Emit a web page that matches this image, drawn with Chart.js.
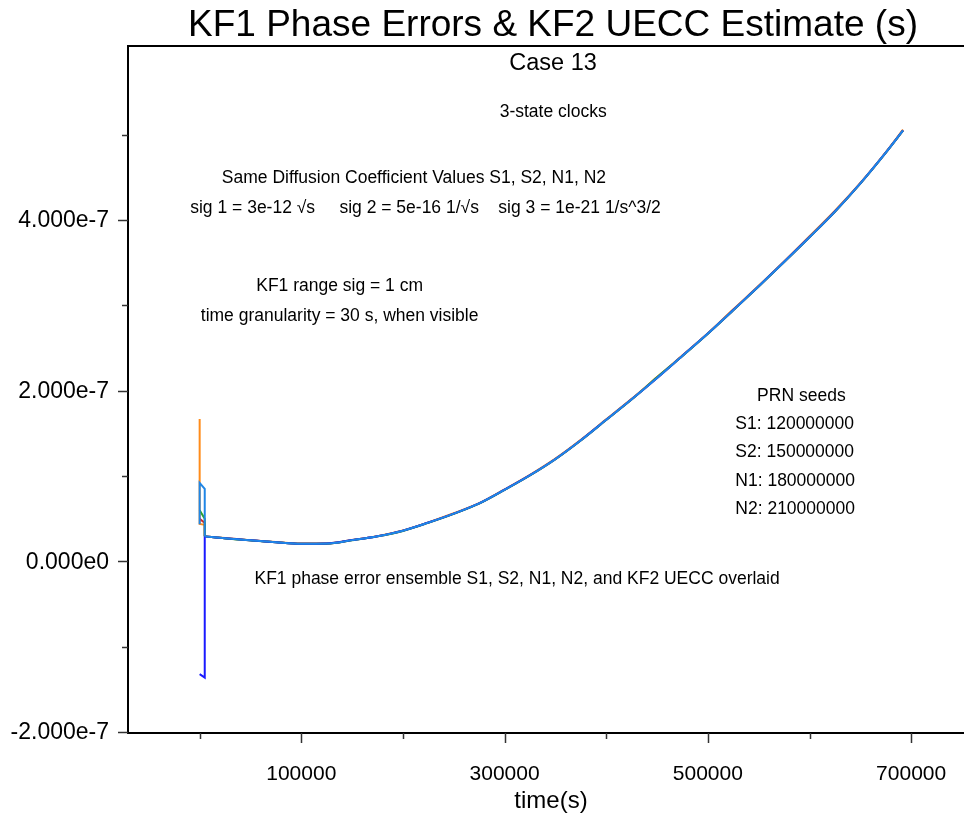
<!DOCTYPE html>
<html>
<head>
<meta charset="utf-8">
<script src="https://cdn.jsdelivr.net/npm/chart.js@4.4.1/dist/chart.umd.min.js"></script>
<style>
  html, body { margin: 0; padding: 0; background: #fff; }
  #wrap { width: 964px; height: 818px; }
</style>
</head>
<body>
<div id="wrap"><canvas id="chart_1"></canvas></div>
<script>
// time axis (s) shared by the smooth part of every trace
var curveTime = [5000, 25000, 50000, 75000, 100000, 125000, 150000, 175000, 200000, 225000,
  250000, 275000, 300000, 325000, 350000, 375000, 400000, 425000, 450000, 475000,
  500000, 525000, 550000, 575000, 600000, 625000, 650000, 675000, 692000];

// KF2 UECC estimate
var ueccCurve = [2.94e-8, 2.72e-8, 2.48e-8, 2.25e-8, 2.08e-8, 2.1e-8, 2.5e-8, 2.95e-8, 3.6e-8, 4.55e-8,
  5.6e-8, 6.8e-8, 8.4e-8, 1.01e-7, 1.2e-7, 1.42e-7, 1.66e-7, 1.9e-7, 2.15e-7, 2.41e-7,
  2.67e-7, 2.945e-7, 3.225e-7, 3.51e-7, 3.8e-7, 4.1e-7, 4.43e-7, 4.79e-7, 5.05e-7];
// KF1 phase errors
var s1Curve = [2.94e-8, 2.75e-8, 2.5e-8, 2.27e-8, 2.1e-8, 2.12e-8, 2.53e-8, 2.97e-8, 3.64e-8, 4.58e-8,
  5.65e-8, 6.83e-8, 8.45e-8, 1.015e-7, 1.205e-7, 1.425e-7, 1.665e-7, 1.905e-7, 2.16e-7, 2.415e-7,
  2.675e-7, 2.955e-7, 3.23e-7, 3.515e-7, 3.81e-7, 4.11e-7, 4.435e-7, 4.795e-7, 5.06e-7];
var s2Curve = [2.94e-8, 2.7e-8, 2.47e-8, 2.24e-8, 2.07e-8, 2.09e-8, 2.49e-8, 2.94e-8, 3.58e-8, 4.53e-8,
  5.58e-8, 6.78e-8, 8.38e-8, 1.008e-7, 1.198e-7, 1.418e-7, 1.658e-7, 1.898e-7, 2.158e-7, 2.408e-7,
  2.668e-7, 2.943e-7, 3.223e-7, 3.508e-7, 3.798e-7, 4.098e-7, 4.428e-7, 4.788e-7, 5.048e-7];
var n1Curve = [2.94e-8, 2.71e-8, 2.49e-8, 2.26e-8, 2.09e-8, 2.11e-8, 2.51e-8, 2.96e-8, 3.61e-8, 4.56e-8,
  5.61e-8, 6.81e-8, 8.41e-8, 1.011e-7, 1.201e-7, 1.421e-7, 1.661e-7, 1.901e-7, 2.151e-7, 2.411e-7,
  2.671e-7, 2.946e-7, 3.226e-7, 3.511e-7, 3.801e-7, 4.101e-7, 4.431e-7, 4.791e-7, 5.051e-7];
var n2Curve = [2.94e-8, 2.72e-8, 2.48e-8, 2.25e-8, 2.08e-8, 2.1e-8, 2.5e-8, 2.95e-8, 3.6e-8, 4.55e-8,
  5.6e-8, 6.8e-8, 8.4e-8, 1.01e-7, 1.2e-7, 1.42e-7, 1.66e-7, 1.9e-7, 2.15e-7, 2.41e-7,
  2.67e-7, 2.945e-7, 3.225e-7, 3.51e-7, 3.8e-7, 4.1e-7, 4.43e-7, 4.79e-7, 5.05e-7];

// start-up transients before the filters settle (end where the smooth part starts)
var s1HeadTime = [0, 0, 5000, 5000];
var s1HeadVal = [1.67e-7, 4.4e-8, 4.3e-8, 2.94e-8];
var s2HeadTime = [0, 5000, 5000];
var s2HeadVal = [6.0e-8, 5.0e-8, 2.94e-8];
var n1HeadTime = [0, 5000, 5000];
var n1HeadVal = [-1.32e-7, -1.36e-7, 2.94e-8];
var n2HeadTime = [0, 5000, 5000];
var n2HeadVal = [5.0e-8, 4.5e-8, 2.94e-8];
var ueccHeadTime = [0, 0, 5000, 5000];
var ueccHeadVal = [4.35e-8, 9.2e-8, 8.5e-8, 2.94e-8];

// axis ticks
var xTicks = [0, 100000, 200000, 300000, 400000, 500000, 600000, 700000];
var xLabelTicks = [100000, 300000, 500000, 700000];
var yTicks = [-2e-7, -1e-7, 0, 1e-7, 2e-7, 3e-7, 4e-7, 5e-7];
var yLabelTicks = [-2e-7, 0, 2e-7, 4e-7];

function pts(t, v) {
  return t.map(function (x, i) { return {x: x, y: v[i]}; });
}

var FONT = '"Liberation Sans", Arial, "DejaVu Sans", sans-serif';

var notes = [
  {x: 347800, y: 5.26e-7, text: '3-state clocks', align: 'center'},
  {x: 210800, y: 4.49e-7, text: 'Same Diffusion Coefficient Values S1, S2, N1, N2', align: 'center'},
  {x: 222200, y: 4.14e-7, text: 'sig 1 = 3e-12 \u221As     sig 2 = 5e-16 1/\u221As    sig 3 = 1e-21 1/s^3/2', align: 'center'},
  {x: 137700, y: 3.23e-7, text: 'KF1 range sig = 1 cm', align: 'center'},
  {x: 137700, y: 2.88e-7, text: 'time granularity = 30 s, when visible', align: 'center'},
  {x: 592000, y: 1.94e-7, text: 'PRN seeds', align: 'center'},
  {x: 527000, y: 1.61e-7, text: 'S1: 120000000', align: 'left'},
  {x: 527000, y: 1.28e-7, text: 'S2: 150000000', align: 'left'},
  {x: 527000, y: 0.94e-7, text: 'N1: 180000000', align: 'left'},
  {x: 527000, y: 0.61e-7, text: 'N2: 210000000', align: 'left'},
  {x: 312300, y: -0.21e-7, text: 'KF1 phase error ensemble S1, S2, N1, N2, and KF2 UECC overlaid', align: 'center'}
];

var decor = {
  id: 'decor',
  afterDraw: function (chart) {
    var ctx = chart.ctx, a = chart.chartArea;
    var xs = chart.scales.x, ys = chart.scales.y;
    ctx.save();
    ctx.fillStyle = '#000';
    ctx.strokeStyle = '#000';

    // top frame line
    ctx.lineWidth = 2;
    ctx.beginPath();
    ctx.moveTo(a.left, a.top);
    ctx.lineTo(a.right, a.top);
    ctx.stroke();

    // tick marks
    ctx.lineWidth = 1.5;
    ctx.strokeStyle = '#333';
    xTicks.forEach(function (v) {
      var px = Math.round(xs.getPixelForValue(v)) + 0.5;
      var len = xLabelTicks.indexOf(v) >= 0 ? 10 : 6;
      ctx.beginPath();
      ctx.moveTo(px, a.bottom);
      ctx.lineTo(px, a.bottom + len);
      ctx.stroke();
    });
    yTicks.forEach(function (v) {
      var py = Math.round(ys.getPixelForValue(v)) + 0.5;
      var len = yLabelTicks.indexOf(v) >= 0 ? 10 : 6;
      ctx.beginPath();
      ctx.moveTo(a.left, py);
      ctx.lineTo(a.left - len, py);
      ctx.stroke();
    });

    // tick labels
    ctx.font = '21px ' + FONT;
    ctx.textBaseline = 'middle';
    ctx.textAlign = 'center';
    xLabelTicks.forEach(function (v) {
      ctx.fillText(String(v), xs.getPixelForValue(v), a.bottom + 41);
    });
    ctx.font = '23px ' + FONT;
    ctx.textAlign = 'right';
    yLabelTicks.forEach(function (v) {
      var s = v === 0 ? '0.000e0' : v.toExponential(3);
      ctx.fillText(s, a.left - 19, ys.getPixelForValue(v) + 1);
    });

    // titles
    ctx.textAlign = 'center';
    ctx.font = '37px ' + FONT;
    ctx.fillText('KF1 Phase Errors & KF2 UECC Estimate (s)', 553, 26);
    ctx.font = '23.5px ' + FONT;
    ctx.fillText('Case 13', 553, 64);
    ctx.font = '24px ' + FONT;
    ctx.fillText('time(s)', 551, 801);

    // annotations
    ctx.font = '17.5px ' + FONT;
    notes.forEach(function (n) {
      ctx.textAlign = n.align;
      ctx.fillText(n.text, xs.getPixelForValue(n.x), ys.getPixelForValue(n.y));
    });
    ctx.restore();
  }
};

var series = [
  {name: 'KF2 UECC', headT: ueccHeadTime, headV: ueccHeadVal, body: ueccCurve, color: '#1f86e6'},
  {name: 'N1', headT: n1HeadTime, headV: n1HeadVal, body: n1Curve, color: '#1a1aff'},
  {name: 'S2', headT: s2HeadTime, headV: s2HeadVal, body: s2Curve, color: '#2ca02c'},
  {name: 'N2', headT: n2HeadTime, headV: n2HeadVal, body: n2Curve, color: '#d62728'},
  {name: 'S1', headT: s1HeadTime, headV: s1HeadVal, body: s1Curve, color: '#ff8c1a'}
];

var datasets = [];
series.forEach(function (s, k) {
  datasets.push({label: s.name, data: pts(curveTime, s.body), borderColor: s.color, order: k,
    cubicInterpolationMode: 'monotone'});
  datasets.push({label: s.name + ' start', data: pts(s.headT, s.headV), borderColor: s.color, order: k});
});

new Chart('chart_1', {
  type: 'line',
  data: {datasets: datasets},
  options: {
    responsive: true,
    maintainAspectRatio: false,
    animation: false,
    datasets: {line: {borderWidth: 2, pointRadius: 0, fill: false, tension: 0}},
    layout: {padding: {left: 120, top: 46, right: 0, bottom: 77}},
    plugins: {legend: {display: false}, tooltip: {enabled: false}, title: {display: false}},
    scales: {
      x: {
        type: 'linear', min: -70500, max: 752000,
        ticks: {display: false},
        grid: {display: false},
        border: {display: true, color: '#000', width: 2}
      },
      y: {
        type: 'linear', min: -2.01e-7, max: 6.04e-7,
        ticks: {display: false},
        grid: {display: false},
        border: {display: true, color: '#000', width: 2}
      }
    }
  },
  plugins: [decor]
});
</script>
</body>
</html>
